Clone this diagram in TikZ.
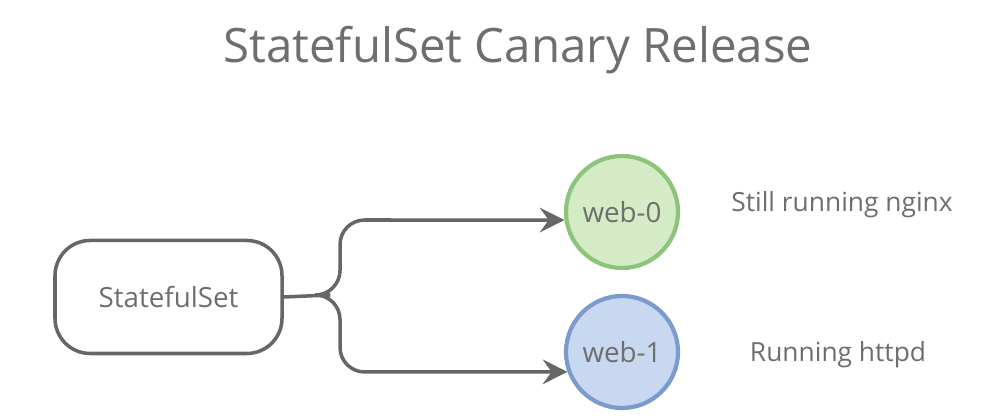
\documentclass[tikz,border=0pt]{standalone}
\usepackage{fontspec}
\setmainfont{Open Sans}
\usetikzlibrary{arrows.meta}
\definecolor{txt}{HTML}{6E6E6E}
\definecolor{ln}{HTML}{666666}
\definecolor{gfill}{HTML}{D4EBC6}
\definecolor{gline}{HTML}{8DC47C}
\definecolor{bfill}{HTML}{C8D8F0}
\definecolor{bline}{HTML}{7C9BCD}
\tikzset{
  box/.style={draw=ln, line width=1pt, rounded corners=10pt, minimum width=2.27cm, minimum height=1.13cm, text=txt, font=\fontsize{7.9}{10}\selectfont},
  pod/.style={circle, line width=1.2pt, minimum size=1.12cm, inner sep=0pt, text=txt, font=\fontsize{7.9}{10}\selectfont},
  lbl/.style={text=txt, font=\fontsize{7.5}{10}\selectfont},
  conn/.style={draw=ln, line width=1pt, rounded corners=7pt},
  tip/.style={-{Stealth[length=7pt,width=7pt,inset=2.5pt]}},
}
\begin{document}
\begin{tikzpicture}[x=1cm,y=1cm]
\useasboundingbox (0,0) rectangle (10,-4.2);
\node[text=txt, font=\fontsize{13.5}{16}\selectfont] (title) at (5.18,-0.50) {StatefulSet Canary Release};
\node[box] (ss) at (1.685,-2.97) {StatefulSet};
\node[pod, fill=gfill, draw=gline] (w0) at (6.22,-2.12) {web-0};
\node[pod, fill=bfill, draw=bline] (w1) at (6.22,-3.52) {web-1};
\node[lbl] (n0) at (8.42,-2.05) {Still running nginx};
\node[lbl] (n1) at (8.38,-3.55) {Running httpd};
\coordinate (j) at (3.30,-2.95);
\draw[conn] (ss.east) -- (j);
\draw[conn, tip] (j) -| (3.40,-2.20) -- (w0.188);
\draw[conn, tip] (j) -| (3.40,-3.72) -- (w1.200);
\end{tikzpicture}
\end{document}
